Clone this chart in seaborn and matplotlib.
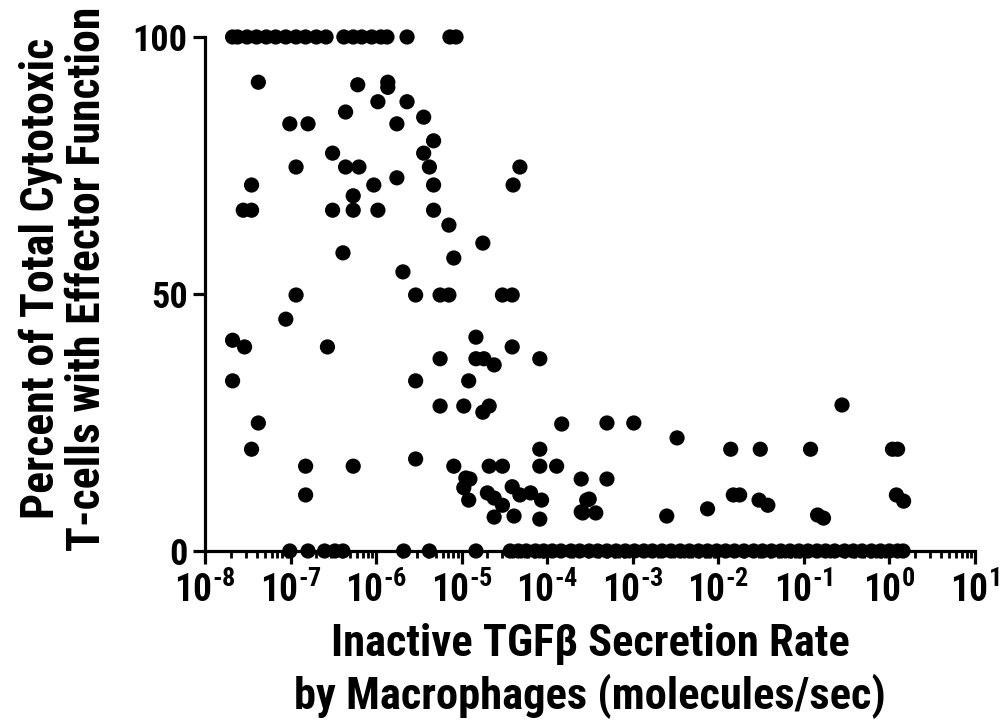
import matplotlib
matplotlib.use("Agg")
import matplotlib.pyplot as plt
import matplotlib.ticker as mticker
import numpy as np
import pandas as pd
import seaborn as sns

# points at 100 %
top_x = [2.1e-8, 2.4e-8, 3.1e-8, 4.0e-8, 5.2e-8, 6.7e-8, 8.8e-8, 1.16e-7, 1.5e-7,
         2.0e-7, 2.6e-7, 4.2e-7, 5.4e-7, 6.8e-7, 8.9e-7, 1.14e-6, 1.34e-6, 2.3e-6,
         7.3e-6, 8.6e-6]

# points between 0 and 100 %
mid_x = [4.2e-8, 6.1e-7, 1.37e-6, 1.37e-6, 1.05e-6, 2.3e-6, 4.4e-7, 9.8e-8, 1.6e-7,
         1.75e-6, 3.6e-6, 4.7e-6, 3.6e-6, 3.1e-7, 1.16e-7, 4.4e-7, 6.3e-7, 4.2e-6,
         4.8e-5, 3.5e-8, 9.4e-7, 1.75e-6, 4.7e-6, 4.0e-5, 5.4e-7, 2.8e-8, 3.5e-8,
         3.1e-7, 5.4e-7, 1.05e-6, 4.7e-6, 7.1e-6, 1.77e-5, 8.1e-6, 4.1e-7, 2.06e-6,
         1.16e-7, 2.9e-6, 5.6e-6, 7.1e-6, 3.0e-5, 3.9e-5, 8.8e-8, 2.1e-8, 2.9e-8,
         2.7e-7, 1.47e-5, 3.9e-5, 5.6e-6, 1.47e-5, 1.82e-5, 2.4e-5, 8.2e-5, 2.1e-8,
         2.9e-6, 1.21e-5, 5.6e-6, 1.06e-5, 2.1e-5, 1.77e-5, 1.48e-4, 4.2e-8, 3.5e-8,
         1.5e-7, 5.4e-7, 1.5e-7, 2.9e-6, 8.1e-6, 2.1e-5, 3.0e-5, 8.2e-5, 8.2e-5,
         1.29e-4, 2.5e-4, 1.12e-5, 1.25e-5, 1.06e-5, 1.21e-5, 2.0e-5, 2.4e-5, 3.0e-5,
         3.9e-5, 4.8e-5, 6.4e-5, 8.6e-5, 2.4e-5, 4.1e-5, 8.2e-5, 2.9e-4, 2.5e-4,
         5.0e-4, 1.03e-3, 3.3e-3, 1.4e-2, 3.1e-2, 5.0e-4, 3.1e-4, 2.6e-4, 3.7e-4,
         2.5e-3, 7.5e-3, 1.5e-2, 1.78e-2, 3.0e-2, 3.8e-2, 0.28, 0.12, 1.09, 1.25,
         1.21, 1.47, 0.145, 0.17]
mid_y = [91.2, 90.7, 91.2, 90.2, 87.4, 87.4, 85.4, 83.1, 83.1,
         83.1, 84.4, 79.8, 77.4, 77.4, 74.7, 74.7, 74.7, 74.7,
         74.7, 71.2, 71.2, 72.6, 71.2, 71.2, 69.1, 66.3, 66.3,
         66.3, 66.3, 66.3, 66.3, 63.4, 59.9, 57.0, 58.0, 54.3,
         49.8, 49.8, 49.8, 49.8, 49.8, 49.8, 45.1, 41.0, 39.7,
         39.7, 41.6, 39.7, 37.4, 37.4, 37.4, 36.2, 37.4, 33.1,
         33.1, 33.1, 28.2, 28.2, 28.2, 27.0, 24.7, 24.9, 19.8,
         16.5, 16.5, 10.9, 17.9, 16.5, 16.5, 16.5, 19.8, 16.5,
         16.5, 14.0, 14.2, 14.0, 12.3, 9.9, 11.3, 10.3, 8.9,
         12.5, 10.9, 11.3, 9.9, 6.6, 6.8, 6.2, 9.9, 7.6,
         24.9, 24.9, 22.0, 19.8, 19.8, 14.0, 10.1, 7.4, 7.4,
         6.8, 8.2, 10.9, 10.9, 9.9, 8.9, 28.4, 19.8, 19.8, 19.8,
         10.9, 9.7, 7.0, 6.4]

# points at 0 %
zero_x = [9.8e-8, 1.6e-7, 2.5e-7, 3.3e-7, 4.1e-7, 2.1e-6, 4.2e-6, 1.47e-5,
          3.7e-5, 4.6e-5, 5.7e-5, 7.3e-5, 9.1e-5, 1.15e-4, 1.45e-4, 1.9e-4,
          2.4e-4, 3.1e-4, 3.9e-4, 5.0e-4, 6.4e-4, 8.2e-4, 1.05e-3, 1.35e-3,
          1.7e-3, 2.2e-3, 2.8e-3, 3.6e-3, 4.6e-3, 5.9e-3, 7.5e-3, 9.6e-3,
          1.22e-2, 1.55e-2, 2.0e-2, 2.6e-2, 3.3e-2, 4.2e-2, 5.4e-2, 6.9e-2,
          8.8e-2, 0.112, 0.143, 0.18, 0.23, 0.3, 0.38, 0.48, 0.62, 0.79, 1.0,
          1.25, 1.45]

df = pd.DataFrame({
    "rate": top_x + mid_x + zero_x,
    "pct": [100.0] * len(top_x) + mid_y + [0.0] * len(zero_x),
})

sns.set_theme(style="ticks")
plt.rcParams["font.family"] = ["Roboto Condensed", "DejaVu Sans"]
plt.rcParams["font.weight"] = "bold"
plt.rcParams["text.color"] = "black"
plt.rcParams["axes.labelcolor"] = "black"
plt.rcParams["mathtext.fontset"] = "custom"
plt.rcParams["mathtext.bf"] = "Roboto Condensed:bold"
plt.rcParams["mathtext.rm"] = "Roboto Condensed:bold"
plt.rcParams["mathtext.default"] = "bf"


def exp_label(val, pos):
    e = int(round(np.log10(val)))
    if e < 0:
        return r"$10^{\text{-}%d}$" % (-e)
    return r"$10^{%d}$" % e


fig = plt.figure(figsize=(10.05, 7.25), dpi=100)
ax = fig.add_axes([0.204, 0.240, 0.766, 0.709])

sns.scatterplot(data=df, x="rate", y="pct", color="black", s=120,
                edgecolor="none", linewidth=0, clip_on=False, ax=ax, zorder=3)

ax.set_xscale("log")
ax.set_xlim(1e-8, 1e1)
ax.set_ylim(0, 100)
ax.set_yticks([0, 50, 100])
ax.xaxis.set_major_locator(mticker.LogLocator(base=10, numticks=20))
ax.xaxis.set_minor_locator(mticker.LogLocator(base=10, subs=np.arange(2, 10), numticks=20))
ax.xaxis.set_major_formatter(mticker.FuncFormatter(exp_label))
ax.xaxis.set_minor_formatter(mticker.NullFormatter())

for side in ["top", "right"]:
    ax.spines[side].set_visible(False)
for side in ["left", "bottom"]:
    ax.spines[side].set_linewidth(2.3)
    ax.spines[side].set_color("black")

ax.tick_params(axis="both", which="major", length=9, width=2.3, labelsize=26,
               colors="black", labelcolor="black")
ax.tick_params(axis="x", which="major", labelsize=27, pad=6)
ax.tick_params(axis="x", which="minor", length=5, width=2.0, colors="black")

ax.set_xlabel("Inactive TGF\u03b2 Secretion Rate\nby Macrophages (molecules/sec)",
              fontsize=32, fontweight="bold", linespacing=1.25)
ax.xaxis.set_label_coords(0.5, -0.14)
ax.set_ylabel("Percent of Total Cytotoxic\nT-cells with Effector Function",
              fontsize=33, fontweight="bold", linespacing=1.05)
ax.yaxis.set_label_coords(-0.125, 0.53)

fig.savefig("out.png", dpi=100)
